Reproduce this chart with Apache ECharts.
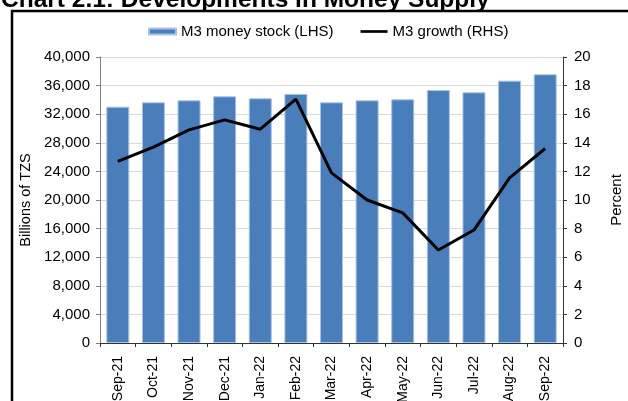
<!DOCTYPE html>
<html>
<head>
<meta charset="utf-8">
<script src="https://cdn.jsdelivr.net/npm/echarts@6/dist/echarts.min.js"></script>
<style>
    html, body { margin: 0; padding: 0; background: #fff; }
    #main { width: 628px; height: 401px; }
</style>
</head>
<body>
<div id="main"></div>
<script>
var months = ["Sep-21", "Oct-21", "Nov-21", "Dec-21", "Jan-22", "Feb-22", "Mar-22",
    "Apr-22", "May-22", "Jun-22", "Jul-22", "Aug-22", "Sep-22"];
// M3 money stock, billions of TZS (left axis)
var m3Stock = [33050, 33660, 33940, 34500, 34220, 34830, 33660,
    33940, 34080, 35380, 35060, 36690, 37580];
// M3 growth, percent (right axis)
var m3Growth = [12.7, 13.7, 14.9, 15.6, 14.95, 17.05, 11.9,
    10.0, 9.1, 6.5, 7.9, 11.55, 13.6];
var leftTicks = { min: 0, max: 40000, interval: 4000 };
var rightTicks = { min: 0, max: 20, interval: 2 };

var font = "Liberation Sans, Arial, sans-serif";

var myChart = echarts.init(document.getElementById("main"));
myChart.setOption({
    animation: false,
    title: {
        text: "Chart 2.1: Developments in Money Supply",
        left: -4,
        top: -17,
        textStyle: { fontFamily: font, fontSize: 24.5, fontWeight: "bold", color: "#000" }
    },
    graphic: [
        {
            type: "rect",
            shape: { x: 12, y: 11, width: 700, height: 500 },
            style: { fill: "none", stroke: "#000", lineWidth: 2.5 },
            silent: true
        }
    ],
    legend: {
        left: 143,
        top: 19,
        itemWidth: 27,
        itemHeight: 6,
        itemGap: 27,
        textStyle: { fontFamily: font, fontSize: 15, color: "#000" },
        data: [
            { name: "M3 money stock (LHS)", icon: "rect" },
            { name: "M3 growth (RHS)", icon: "path://M0,0 L30,0 L30,3 L0,3 Z" }
        ]
    },
    grid: { left: 100, right: 65, top: 57, bottom: 58, outerBoundsMode: "none" },
    xAxis: {
        type: "category",
        data: months,
        axisLine: { lineStyle: { color: "#333", width: 1 } },
        axisTick: { show: true, length: 4, lineStyle: { color: "#333" } },
        axisLabel: {
            rotate: 90,
            margin: 13,
            fontFamily: font,
            fontSize: 14,
            color: "#000"
        }
    },
    yAxis: [
        {
            type: "value",
            min: leftTicks.min,
            max: leftTicks.max,
            interval: leftTicks.interval,
            name: "Billions of TZS",
            nameLocation: "middle",
            nameRotate: 90,
            nameGap: 64,
            nameTextStyle: { fontFamily: font, fontSize: 14.5, color: "#000" },
            axisLine: { show: true, lineStyle: { color: "#808080" } },
            axisTick: { show: true, length: 4, lineStyle: { color: "#808080" } },
            axisLabel: {
                margin: 10,
                fontFamily: font,
                fontSize: 15,
                color: "#000",
                formatter: function (v) {
                    return v.toLocaleString("en-US");
                }
            },
            splitLine: { show: true, lineStyle: { color: "#d9d9d9", width: 1 } }
        },
        {
            type: "value",
            position: "right",
            min: rightTicks.min,
            max: rightTicks.max,
            interval: rightTicks.interval,
            name: "Percent",
            nameLocation: "middle",
            nameRotate: 90,
            nameGap: 46,
            nameTextStyle: { fontFamily: font, fontSize: 15, color: "#000" },
            axisLine: { show: true, lineStyle: { color: "#333" } },
            axisTick: { show: true, length: 4, lineStyle: { color: "#333" } },
            axisLabel: {
                margin: 11,
                fontFamily: font,
                fontSize: 15,
                color: "#000"
            },
            splitLine: { show: false }
        }
    ],
    series: [
        {
            name: "M3 money stock (LHS)",
            type: "bar",
            yAxisIndex: 0,
            barWidth: 23,
            data: m3Stock,
            itemStyle: { color: "#4a7ebb", borderColor: "#a9c2e3", borderWidth: 1 }
        },
        {
            name: "M3 growth (RHS)",
            type: "line",
            yAxisIndex: 1,
            data: m3Growth,
            symbol: "none",
            lineStyle: { color: "#000", width: 3 },
            itemStyle: { color: "#000" }
        }
    ]
});
</script>
</body>
</html>
